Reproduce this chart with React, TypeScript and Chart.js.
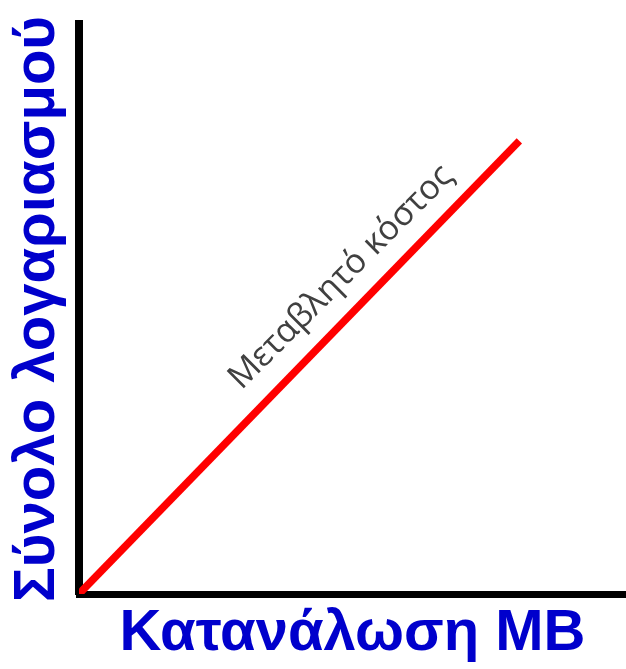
import React, { useEffect, useRef } from "react";
import { Chart, registerables } from "chart.js";

Chart.register(...registerables);

// Data
const costX: number[] = [0, 80.5];
const costY: number[] = [0, 79.5];
const seriesLabel = "Μεταβλητό κόστος";
const xTitle = "Κατανάλωση MB";
const yTitle = "Σύνολο λογαριασμού";
const labelPos = { x: 49.2, y: 54.4 };

const BLUE = "#0000CC";

const lineLabelPlugin = {
  id: "lineLabel",
  afterDatasetsDraw(chart: any) {
    const { ctx, scales } = chart;
    const px = scales.x.getPixelForValue(labelPos.x);
    const py = scales.y.getPixelForValue(labelPos.y);
    ctx.save();
    ctx.translate(px, py);
    ctx.rotate(-Math.PI / 4);
    ctx.font = '34px "Open Sans"';
    ctx.fillStyle = "#404040";
    ctx.textAlign = "center";
    ctx.textBaseline = "alphabetic";
    ctx.fillText(seriesLabel, 0, 0);
    ctx.restore();
  },
};

export default function App() {
  const ref = useRef<HTMLCanvasElement | null>(null);
  useEffect(() => {
    document.body.style.margin = "0";
    const chart = new Chart(ref.current as HTMLCanvasElement, {
      type: "line",
      data: {
        datasets: [
          {
            label: seriesLabel,
            data: costX.map((x, i) => ({ x, y: costY[i] })),
            borderColor: "#FF0000",
            borderWidth: 7.5,
            pointRadius: 0,
            borderCapStyle: "butt",
          },
        ],
      },
      options: {
        animation: false,
        responsive: false,
        devicePixelRatio: 1,
        layout: { padding: { top: 24, right: 0, left: 0, bottom: 0 } },
        plugins: { legend: { display: false }, tooltip: { enabled: false } },
        scales: {
          x: {
            type: "linear",
            min: 0,
            max: 100,
            grid: { display: false },
            ticks: { display: false },
            border: { display: true, color: "#000", width: 7 },
            title: {
              display: true,
              text: xTitle,
              color: BLUE,
              font: { family: '"Liberation Sans", Arial, sans-serif', size: 58, weight: "bold" },
              padding: { top: 0, bottom: 0 },
            },
            afterFit: (s: any) => {
              s.height = 75;
            },
          },
          y: {
            type: "linear",
            min: 0,
            max: 100,
            grid: { display: false },
            ticks: { display: false },
            border: { display: true, color: "#000", width: 8 },
            title: {
              display: true,
              text: yTitle,
              color: BLUE,
              font: { family: '"Liberation Sans", Arial, sans-serif', size: 58, weight: "bold" },
              padding: { top: 3, bottom: 0 },
            },
            afterFit: (s: any) => {
              s.width = 79;
            },
          },
        },
      },
      plugins: [lineLabelPlugin],
    });
    return () => chart.destroy();
  }, []);
  return (
    <div style={{ position: "fixed", left: 0, top: 0, width: 626, height: 669 }}>
      <canvas ref={ref} width={626} height={669} />
    </div>
  );
}
